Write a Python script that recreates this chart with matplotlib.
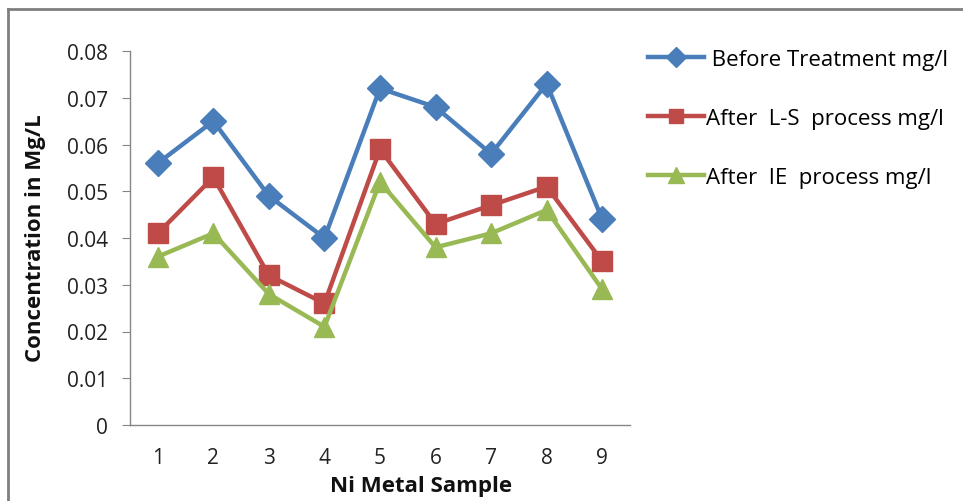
import matplotlib
matplotlib.use("Agg")
import matplotlib.pyplot as plt
from matplotlib.lines import Line2D

samples = [1, 2, 3, 4, 5, 6, 7, 8, 9]
before = [0.056, 0.065, 0.049, 0.040, 0.072, 0.068, 0.058, 0.073, 0.044]
after_ls = [0.041, 0.053, 0.032, 0.026, 0.059, 0.043, 0.047, 0.051, 0.035]
after_ie = [0.036, 0.041, 0.028, 0.021, 0.052, 0.038, 0.041, 0.046, 0.029]
yticks = [0, 0.01, 0.02, 0.03, 0.04, 0.05, 0.06, 0.07, 0.08]
ytick_labels = ["0", "0.01", "0.02", "0.03", "0.04", "0.05", "0.06", "0.07", "0.08"]
labels = [" Before Treatment mg/l", "After  L-S  process mg/l", "After  IE  process mg/l"]

plt.rcParams['font.family'] = ['Open Sans', 'DejaVu Sans']

fig = plt.figure(figsize=(9.63, 5.02), dpi=100)
ax = fig.add_axes([130/963, 1-426/502, 500/963, 374/502])

blue, red, green = "#4A7EBB", "#BE4B48", "#98B954"
l1, = ax.plot(samples, before, color=blue, lw=3.2, marker='D', ms=13, label=labels[0])
l2, = ax.plot(samples, after_ls, color=red, lw=3.2, marker='s', ms=14, label=labels[1])
l3, = ax.plot(samples, after_ie, color=green, lw=3.2, marker='^', ms=15, label=labels[2])

ax.set_xlim(0.5, 9.5)
ax.set_ylim(0, 0.08)
ax.set_xticks(samples)
ax.set_xticklabels([str(s) for s in samples])
ax.set_yticks(yticks)
ax.set_yticklabels(ytick_labels)
for s in ['top', 'right']:
    ax.spines[s].set_visible(False)
for s in ['left', 'bottom']:
    ax.spines[s].set_color('#868686')
    ax.spines[s].set_linewidth(1)
ax.tick_params(axis='y', length=6, color='#868686', labelsize=15, pad=10, labelcolor='#222222')
ax.tick_params(axis='x', length=0, labelsize=15, pad=16, labelcolor='#222222')

fig.text(35/963, 1-238/502, "Concentration in Mg/L", rotation=90, ha='center', va='center',
         fontsize=16, fontweight='bold', color='#111111')
fig.text(421/963, 1-487/502, "Ni Metal Sample", ha='center', va='center',
         fontsize=16, fontweight='bold', color='#111111')

ax.legend(handles=[l1, l2, l3], loc='upper left', bbox_to_anchor=(628/963, 1-30/502),
          bbox_transform=fig.transFigure, frameon=False, fontsize=16,
          handlelength=2.5, handletextpad=0.1, labelspacing=1.7, markerscale=0.75)

# figure border (top and left)
fig.add_artist(Line2D([8/963, 8/963], [0, 1-10/502], transform=fig.transFigure, color='#7f7f7f', lw=2))
fig.add_artist(Line2D([8/963, 1], [1-10/502, 1-10/502], transform=fig.transFigure, color='#7f7f7f', lw=2))

fig.savefig("out.png", dpi=100)
